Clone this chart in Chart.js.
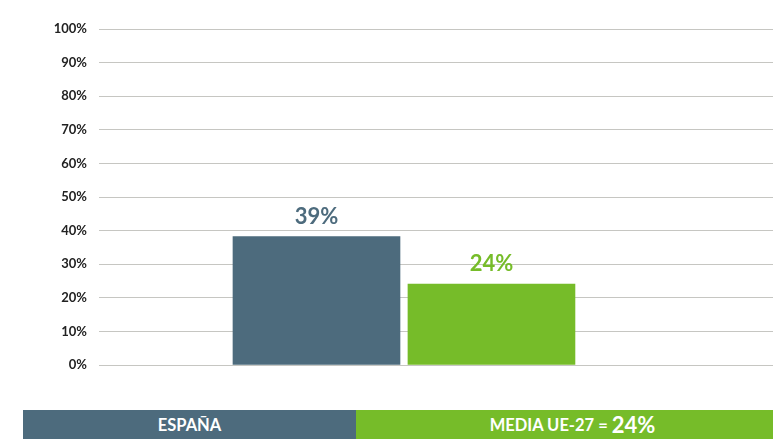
<!DOCTYPE html>
<html>
<head>
<meta charset="utf-8">
<script src="https://cdn.jsdelivr.net/npm/chart.js@4/dist/chart.umd.min.js"></script>
<style>
  body { margin: 0; background: #fff; font-family: Lato, sans-serif; }
  #wrap { position: relative; width: 773px; height: 439px; }
  #chart { position: absolute; left: 0; top: 0; }
  .band { position: absolute; top: 410px; height: 29px; color: #fff; font-weight: bold;
          display: flex; align-items: center; justify-content: center; font-size: 16.5px; }
  #b1 { left: 23px; width: 333px; background: #4d6b7d; }
  #b2 { left: 356px; width: 417px; background: #76bc29; padding-left: 16px; box-sizing: border-box; }
  #b2 span { font-size: 22px; margin-left: 4px; }
</style>
</head>
<body>
<div id="wrap">
  <canvas id="chart" width="773" height="390"></canvas>
  <div class="band" id="b1">ESPAÑA</div>
  <div class="band" id="b2">MEDIA UE-27 =<span>24%</span></div>
</div>
<script>
// data
var categories = ['ESPAÑA', 'MEDIA UE-27'];
var values = [38.2, 24.1];
var valueLabels = ['39%', '24%'];
var yTicks = [0, 10, 20, 30, 40, 50, 60, 70, 80, 90, 100];

var colors = ['#4d6b7d', '#76bc29'];

// value labels above the bars
var barLabels = {
    id: 'barLabels',
    afterDatasetsDraw: function(chart) {
        var ctx = chart.ctx;
        var meta = chart.getDatasetMeta(0);
        ctx.save();
        ctx.font = 'bold 22px Lato';
        ctx.textAlign = 'center';
        ctx.textBaseline = 'bottom';
        meta.data.forEach(function(bar, i) {
            ctx.fillStyle = colors[i];
            ctx.fillText(valueLabels[i], bar.x, bar.y - 9);
        });
        ctx.restore();
    }
};

var ctx = document.getElementById('chart').getContext('2d');
var chart = new Chart(ctx, {
    type: 'bar',
    data: {
        labels: categories,
        datasets: [{
            data: values.map(function(v, i) { return { x: i + 1, y: v }; }),
            backgroundColor: colors,
            borderWidth: 0,
            barThickness: 167
        }]
    },
    options: {
        responsive: false,
        animation: false,
        layout: { padding: { top: 29, bottom: 25, left: 0, right: 0 } },
        plugins: {
            legend: { display: false },
            tooltip: { enabled: false }
        },
        scales: {
            x: {
                type: 'linear',
                display: false,
                offset: false,
                min: -0.243,
                max: 3.609
            },
            y: {
                min: 0,
                max: 100,
                afterBuildTicks: function(s) {
                    s.ticks = yTicks.map(function(v) { return { value: v }; });
                },
                afterFit: function(s) { s.width = 99; },
                border: { display: false },
                grid: { color: '#c6c6c2', drawTicks: false, lineWidth: 1 },
                ticks: {
                    padding: 12,
                    color: '#222',
                    font: { family: 'Lato', size: 13, weight: 'bold' },
                    callback: function(v) { return v + '%'; }
                }
            }
        }
    },
    plugins: [barLabels]
});
</script>
</body>
</html>
